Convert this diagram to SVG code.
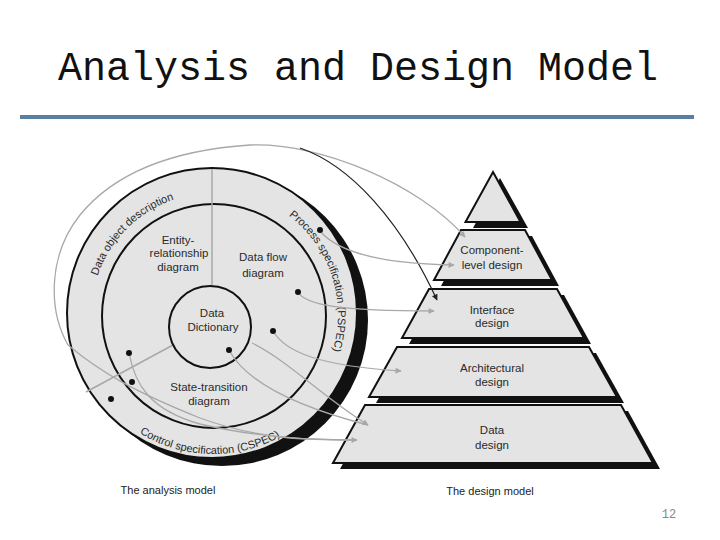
<svg xmlns="http://www.w3.org/2000/svg" width="720" height="540" viewBox="0 0 720 540">
  <style>
    .lbl { font-family: "Liberation Sans", Arial, sans-serif; font-size: 11.5px; fill: #2a2a2a; text-anchor: middle; }
    .ring { font-family: "Liberation Sans", Arial, sans-serif; font-size: 11px; fill: #2a2a2a; }
    .cap { font-family: "Liberation Sans", Arial, sans-serif; font-size: 11px; fill: #222; text-anchor: middle; }
    .shape { fill: #e4e4e4; stroke: #111; stroke-width: 2; }
    .shadow { fill: #111; }
    .edge { fill: none; stroke: #a8a8a8; stroke-width: 1.3; }
    .edgeb { fill: none; stroke: #222; stroke-width: 1.2; }
    .div { stroke: #a8a8a8; stroke-width: 1.5; }
    .dot { fill: #111; }
  </style>
  <defs>
    <marker id="ag" viewBox="0 0 10 10" refX="9" refY="5" markerWidth="8" markerHeight="6" orient="auto" markerUnits="userSpaceOnUse">
      <path d="M0,0 L10,5 L0,10 Z" fill="#a8a8a8"/>
    </marker>
    <marker id="ab" viewBox="0 0 10 10" refX="9" refY="5" markerWidth="8" markerHeight="6" orient="auto" markerUnits="userSpaceOnUse">
      <path d="M0,0 L10,5 L0,10 Z" fill="#222"/>
    </marker>
    <path id="tpData" d="M95.2,346.6 A122,122 0 0 1 244.6,197.2"/>
    <path id="tpPspec" d="M239,192.7 A125,125 0 0 1 305.9,398.6"/>
    <path id="tpCspec" d="M90.8,381.3 A139,139 0 0 0 331.5,387.6"/>
  </defs>

  <rect width="720" height="540" fill="#ffffff"/>

  <!-- title -->
  <text x="358" y="80" font-family="'Liberation Mono', 'Courier New', monospace" font-size="40" fill="#111" text-anchor="middle">Analysis and Design Model</text>
  <rect x="20" y="115" width="674" height="4" fill="#5b7fa3"/>

  <!-- analysis model -->
  <g id="analysis-model">
    <circle class="shadow" cx="222" cy="320" r="146"/>
    <circle class="shape" cx="212" cy="313" r="145"/>
    <circle cx="214" cy="316" r="112" fill="none" stroke="#111" stroke-width="2"/>
    <line class="div" x1="212" y1="169" x2="212" y2="287"/>
    <line class="div" x1="173" y1="345" x2="86" y2="392"/>
    <circle class="shape" cx="210" cy="327" r="41"/>
  </g>
  <g id="data-object-description">
    <text class="ring"><textPath href="#tpData" startOffset="50%" text-anchor="middle">Data object description</textPath></text>
  </g>
  <g id="process-specification">
    <text class="ring"><textPath href="#tpPspec" startOffset="50%" text-anchor="middle">Process specification (PSPEC)</textPath></text>
  </g>
  <g id="control-specification">
    <text class="ring"><textPath href="#tpCspec" startOffset="50%" text-anchor="middle">Control specification (CSPEC)</textPath></text>
  </g>
  <g id="entity-relationship">
    <text class="lbl" x="178" y="244">Entity-</text>
    <text class="lbl" x="179" y="257">relationship</text>
    <text class="lbl" x="178" y="271">diagram</text>
  </g>
  <g id="data-flow">
    <text class="lbl" x="263" y="261">Data flow</text>
    <text class="lbl" x="263" y="277">diagram</text>
  </g>
  <g id="data-dictionary">
    <text class="lbl" x="212" y="317">Data</text>
    <text class="lbl" x="213" y="331">Dictionary</text>
  </g>
  <g id="state-transition">
    <text class="lbl" x="209" y="391">State-transition</text>
    <text class="lbl" x="209" y="405">diagram</text>
  </g>

  <!-- design model pyramid -->
  <g id="pyramid-top">
    <polygon class="shadow" points="500,178 528,228 473,228"/>
    <polygon class="shape" points="493,172 520.5,222 465.5,222"/>
  </g>
  <g id="component-level-design">
    <polygon class="shadow" points="468,236 532,236 559,286 441,286"/>
    <polygon class="shape" points="461,230 525,230 552,280 434,280"/>
    <text class="lbl" x="492" y="254">Component-</text>
    <text class="lbl" x="492" y="269">level design</text>
  </g>
  <g id="interface-design">
    <polygon class="shadow" points="436,295 564,295 591,344 409,344"/>
    <polygon class="shape" points="429,289 557,289 584,338 402,338"/>
    <text class="lbl" x="492" y="314">Interface</text>
    <text class="lbl" x="492" y="327">design</text>
  </g>
  <g id="architectural-design">
    <polygon class="shadow" points="404,353 596,353 624,403 376,403"/>
    <polygon class="shape" points="397,347 589,347 617,397 369,397"/>
    <text class="lbl" x="492" y="372">Architectural</text>
    <text class="lbl" x="492" y="386">design</text>
  </g>
  <g id="data-design">
    <polygon class="shadow" points="372,411 628,411 660,469 340,469"/>
    <polygon class="shape" points="365,405 621,405 653,463 333,463"/>
    <text class="lbl" x="492" y="434">Data</text>
    <text class="lbl" x="492" y="449">design</text>
  </g>

  <!-- connectors -->
  <g id="connectors">
    <path class="edge" d="M68,345 C48,310 48,255 80,215 C115,172 175,150 250,145 C320,142 420,185 465,237" marker-end="url(#ag)"/>
    <path class="edgeb" d="M300,148 C350,165 400,220 437,300" marker-end="url(#ab)"/>
    <path class="edge" d="M68,345 C100,372 135,392 200,418 C260,440 310,440 357,440" marker-end="url(#ag)"/>
    <path class="edge" d="M129,353 C135,385 150,410 200,424 C250,436 300,440 357,440"/>
    <path class="edge" d="M320,231 C340,255 390,264 454,265" marker-end="url(#ag)"/>
    <path class="edge" d="M298,292 C305,305 340,311 434,311" marker-end="url(#ag)"/>
    <path class="edge" d="M273,331 C285,352 320,366 401,371" marker-end="url(#ag)"/>
    <path class="edge" d="M252,343 C290,362 320,395 368,425" marker-end="url(#ag)"/>
    <path class="edge" d="M229,350 C245,380 290,405 368,425"/>
  </g>

  <!-- dots -->
  <g id="dots">
    <circle class="dot" cx="320" cy="230" r="3"/>
    <circle class="dot" cx="298" cy="292" r="3"/>
    <circle class="dot" cx="273" cy="331" r="3"/>
    <circle class="dot" cx="229" cy="350" r="3"/>
    <circle class="dot" cx="129" cy="353" r="3"/>
    <circle class="dot" cx="132" cy="382" r="3"/>
    <circle class="dot" cx="111" cy="399" r="3"/>
  </g>

  <!-- captions -->
  <text class="cap" x="168" y="494">The analysis model</text>
  <text class="cap" x="490" y="495">The design model</text>
  <text x="669" y="518" font-family="'Liberation Mono', 'Courier New', monospace" font-size="12" fill="#888" text-anchor="middle">12</text>
</svg>
